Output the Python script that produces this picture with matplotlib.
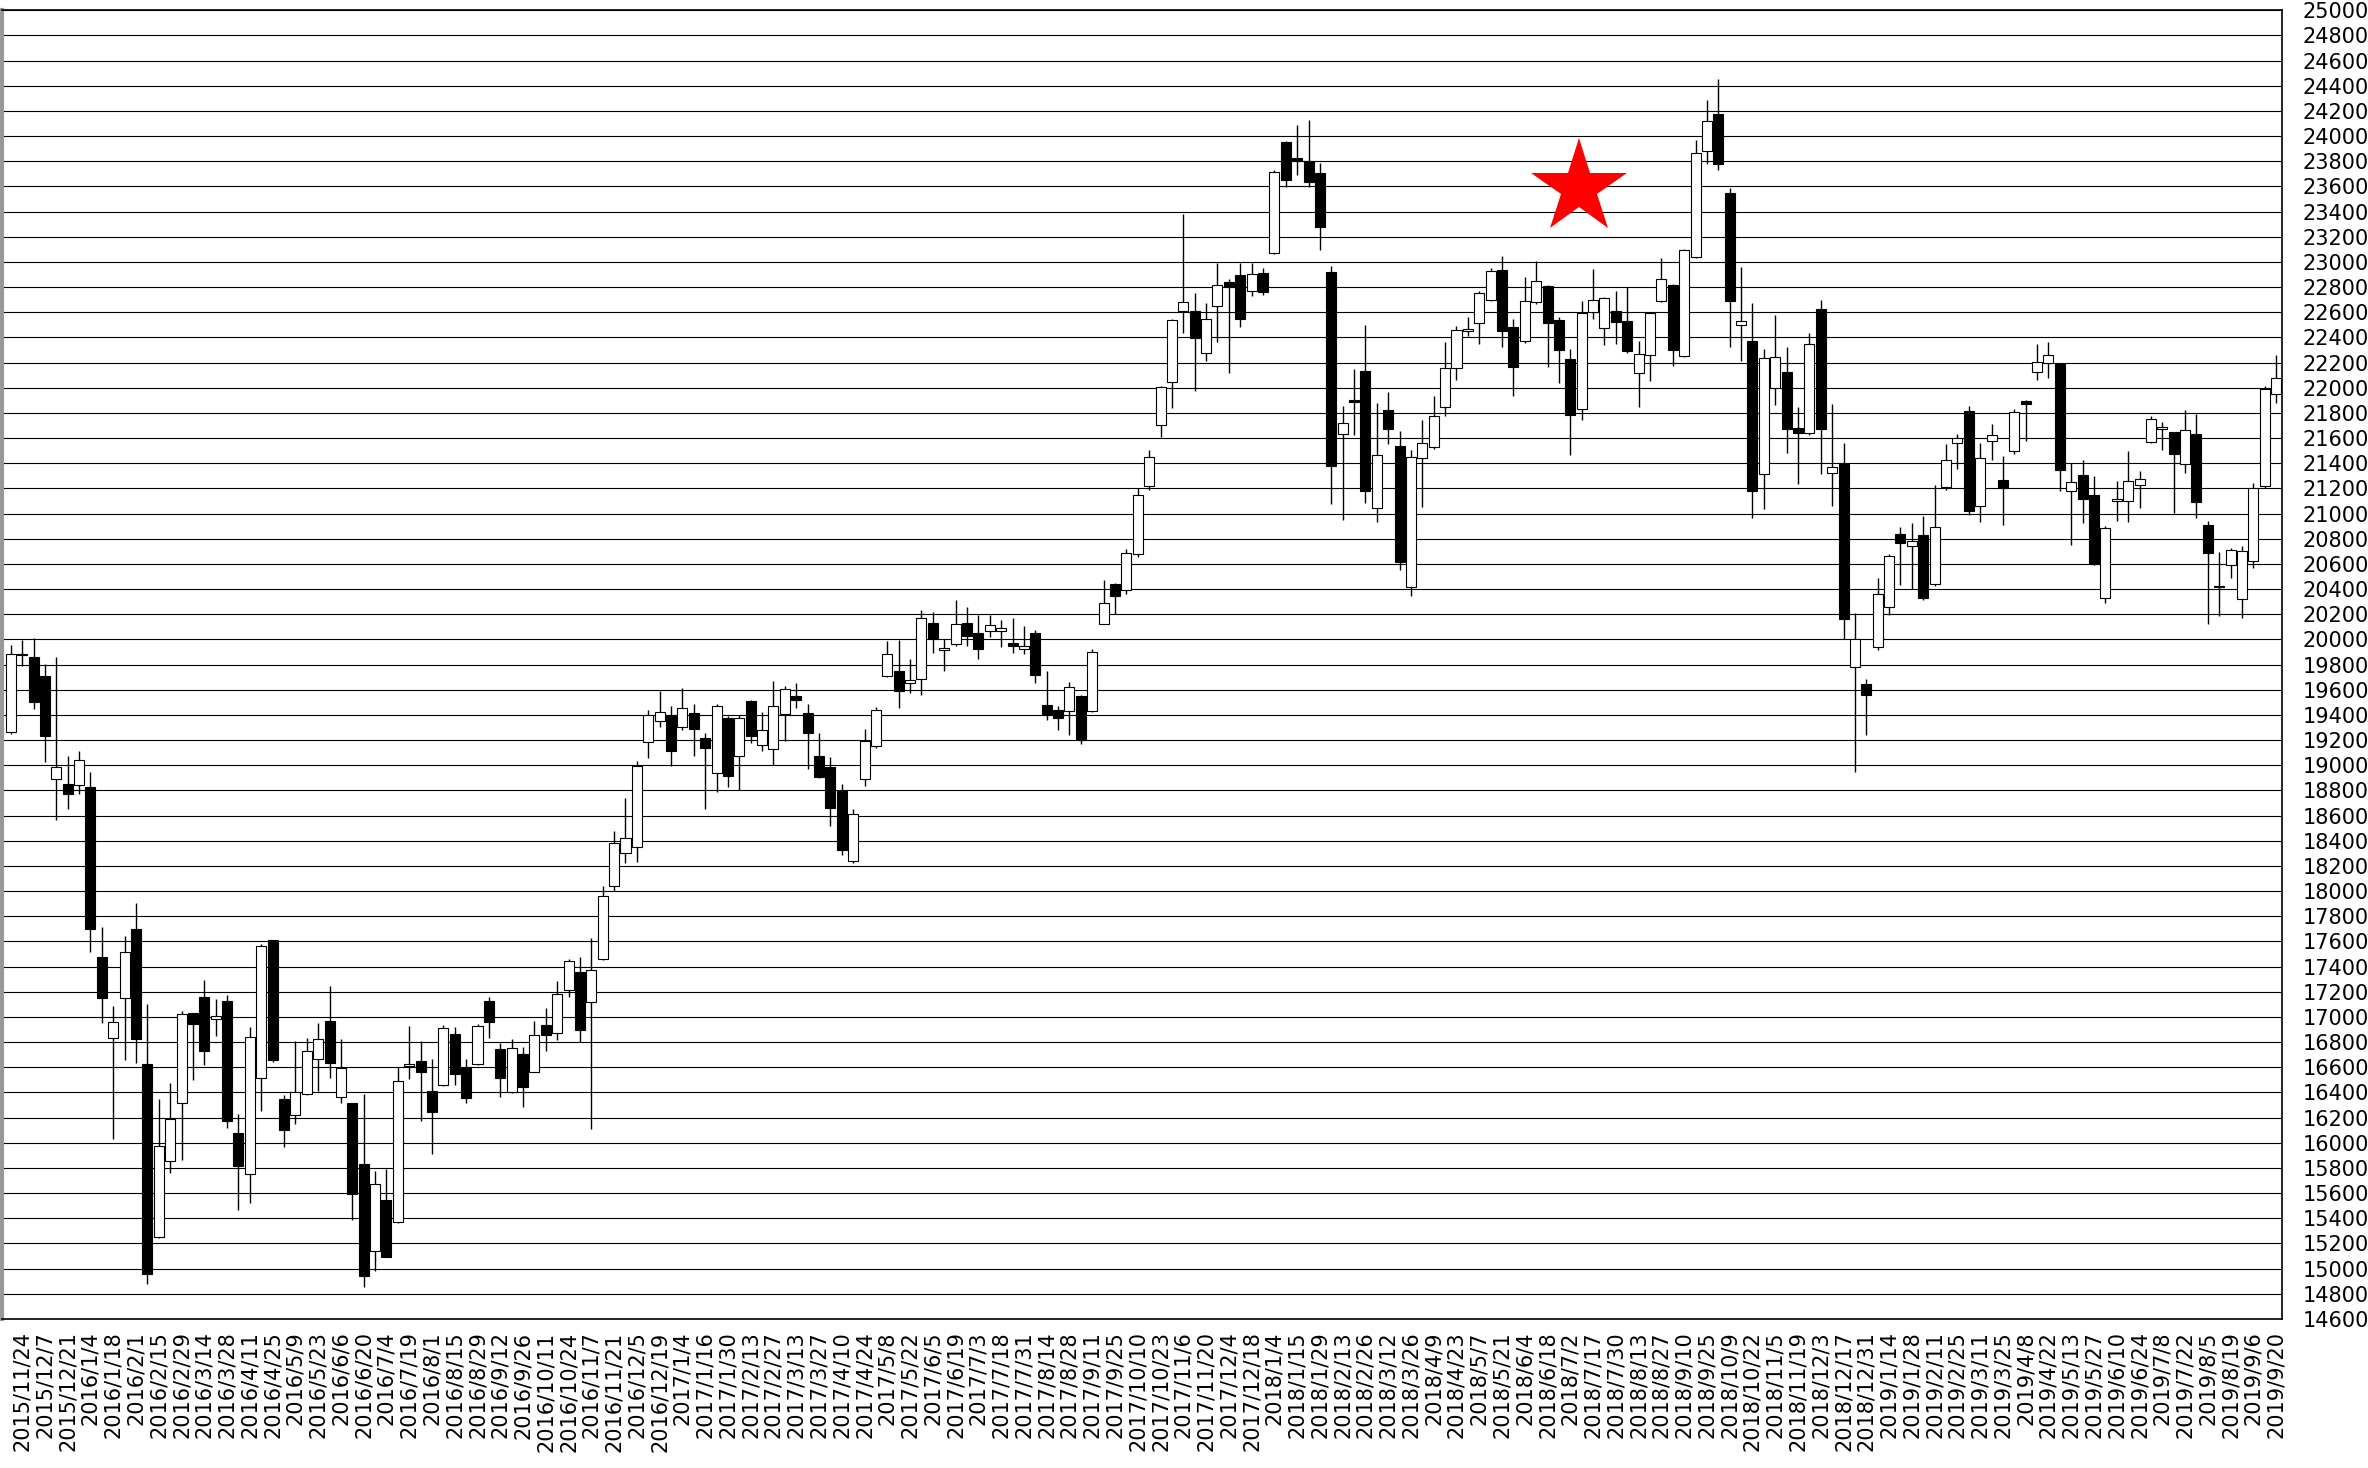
#!/usr/bin/env python3
# -*- coding: utf-8 -*-
"""
Weekly candlestick chart (Nikkei 225, 2015/11 - 2019/9) with a red star marker
"""

import matplotlib
matplotlib.use('Agg')
import matplotlib.pyplot as plt
import numpy as np

# Weekly OHLC values (one entry per week)
opens = [
    19261, 19880, 19860, 19709, 18888, 18849, 18842, 18824, 17476, 16835,
    17150, 17698, 16623, 15254, 15853, 16319, 17028, 17161, 16985, 17128,
    16080, 15752, 16517, 17610, 16350, 16218, 16385, 16665, 16969, 16366,
    16313, 15832, 15144, 15549, 15371, 16610, 16649, 16408, 16456, 16865,
    16598, 16624, 17131, 16745, 16400, 16708, 16563, 16933, 16871, 17214,
    17361, 17123, 17463, 18039, 18302, 18347, 19186, 19352, 19397, 19301,
    19415, 19219, 18939, 19373, 19071, 19513, 19161, 19129, 19407, 19550,
    19417, 19071, 18984, 18798, 18238, 18891, 19150, 19711, 19753, 19655,
    19689, 20131, 19914, 19967, 20131, 20051, 20065, 20067, 19969, 19927,
    20054, 19476, 19439, 19431, 19550, 19432, 20125, 20438, 20396, 20676,
    21216, 21708, 22044, 22613, 22607, 22277, 22652, 22843, 22896, 22771,
    22909, 23070, 23954, 23827, 23801, 23708, 22922, 21629, 21905, 22135,
    21045, 21820, 21534, 20418, 21439, 21529, 21844, 22156, 22452, 22513,
    22701, 22937, 22487, 22370, 22685, 22807, 22542, 22230, 21831, 22606,
    22474, 22612, 22532, 22114, 22262, 22691, 22818, 22252, 23040, 23881,
    24172, 23551, 22501, 22374, 21315, 21998, 22122, 21678, 21644, 22628,
    21319, 21398, 19779, 19647, 19943, 20260, 20842, 20742, 20829, 20438,
    21213, 21562, 21813, 21059, 21575, 21266, 21498, 21899, 22129, 22195,
    22190, 21182, 21309, 21150, 20330, 21097, 21097, 21230, 21568, 21671,
    21645, 21396, 21632, 20910, 20428, 20595, 20325, 20626, 21216, 21952,
]
highs = [
    19960, 19996, 20014, 19809, 19863, 19071, 19110, 18949, 17716, 17085,
    17644, 17906, 17100, 16347, 16476, 17046, 17035, 17290, 17146, 17171,
    16231, 16924, 17580, 17615, 16380, 16808, 16832, 16951, 17244, 16824,
    16320, 16385, 15774, 15795, 16602, 16932, 16813, 16668, 16938, 16919,
    16665, 16946, 17155, 16791, 16825, 16758, 16967, 17075, 17289, 17460,
    17476, 17624, 18039, 18481, 18741, 19035, 19437, 19593, 19475, 19611,
    19486, 19253, 19484, 19394, 19399, 19521, 19420, 19669, 19632, 19658,
    19486, 19253, 19063, 18849, 18653, 19288, 19465, 19989, 19997, 19842,
    20231, 20218, 20006, 20311, 20258, 20192, 20192, 20152, 20170, 20107,
    20077, 19752, 19470, 19664, 19558, 19926, 20475, 20448, 20721, 21205,
    21502, 22015, 22545, 23380, 22756, 22676, 22994, 22861, 22994, 22988,
    22951, 23729, 23960, 24086, 24126, 23787, 22964, 21859, 22150, 22497,
    21881, 21968, 21656, 21508, 21741, 21931, 22360, 22492, 22566, 22772,
    22952, 23050, 22548, 22878, 23011, 22815, 22561, 22310, 22691, 22942,
    22720, 22770, 22797, 22374, 22605, 23030, 22825, 23101, 23966, 24284,
    24450, 23585, 22956, 22670, 22307, 22580, 22326, 21850, 22438, 22699,
    21869, 21562, 20207, 19686, 20491, 20678, 20890, 20927, 20980, 21231,
    21551, 21636, 21856, 21562, 21710, 21456, 21834, 21905, 22349, 22367,
    22195, 21402, 21428, 21301, 20904, 21256, 21494, 21335, 21777, 21732,
    21650, 21820, 21793, 20939, 20693, 20727, 20746, 21243, 22015, 22261,
]
lows = [
    19250, 19791, 19447, 19028, 18569, 18655, 18770, 17516, 16949, 16028,
    16656, 16638, 14878, 15240, 15760, 15867, 16498, 16620, 16849, 16118,
    15464, 15520, 16250, 16640, 15967, 16152, 16380, 16411, 16517, 16319,
    15390, 14856, 14980, 15090, 15365, 16509, 16170, 15914, 16450, 16460,
    16316, 16620, 16833, 16362, 16395, 16284, 16560, 16732, 16817, 17160,
    16801, 16113, 17455, 18004, 18224, 18232, 19057, 19304, 18995, 19283,
    19071, 18653, 18785, 18830, 18806, 19174, 19116, 19000, 19195, 19455,
    18970, 18900, 18521, 18288, 18224, 18838, 19140, 19705, 19452, 19578,
    19562, 19895, 19749, 19946, 19946, 19848, 20020, 19943, 19895, 19886,
    19654, 19360, 19281, 19239, 19169, 19425, 20120, 20205, 20364, 20655,
    21189, 21607, 21838, 22433, 21972, 22216, 22361, 22115, 22480, 22729,
    22734, 23065, 23592, 23692, 23592, 23094, 21078, 20946, 21622, 21087,
    20934, 21556, 20556, 20344, 21053, 21516, 21772, 22064, 22410, 22349,
    22688, 22323, 21931, 22357, 22667, 22164, 22037, 21463, 21744, 22546,
    22342, 22347, 22276, 21850, 22051, 22678, 22175, 22245, 23035, 23776,
    23733, 22321, 22210, 20966, 21038, 21863, 21479, 21236, 21623, 21311,
    21062, 20001, 18943, 19239, 19916, 20194, 20432, 20398, 20313, 20424,
    21186, 21358, 20988, 20935, 21424, 20908, 21472, 21575, 22063, 22076,
    21177, 20753, 20925, 20589, 20290, 20939, 20931, 21044, 21565, 21502,
    21005, 21322, 20965, 20119, 20190, 20489, 20171, 20568, 21203, 21878,
]
closes = [
    19881, 19883, 19505, 19232, 18989, 18770, 19039, 17698, 17150, 16960,
    17519, 16824, 14957, 15971, 16193, 17021, 16942, 16731, 17005, 16171,
    15816, 16840, 17567, 16655, 16102, 16403, 16729, 16829, 16636, 16591,
    15591, 14943, 15673, 15096, 16490, 16630, 16559, 16244, 16911, 16544,
    16357, 16925, 16959, 16517, 16750, 16445, 16858, 16855, 17182, 17447,
    16900, 17372, 17964, 18382, 18425, 18998, 19403, 19424, 19116, 19452,
    19288, 19137, 19470, 18917, 19378, 19235, 19280, 19470, 19605, 19521,
    19259, 18907, 18664, 18330, 18616, 19195, 19441, 19883, 19590, 19675,
    20170, 20004, 19935, 20125, 20025, 19922, 20112, 20094, 19948, 19946,
    19720, 19400, 19379, 19620, 19201, 19901, 20290, 20348, 20686, 21150,
    21449, 22010, 22539, 22684, 22393, 22547, 22816, 22798, 22549, 22904,
    22763, 23716, 23655, 23803, 23637, 23274, 21377, 21719, 21885, 21180,
    21463, 21675, 20614, 21450, 21561, 21775, 22159, 22463, 22471, 22757,
    22926, 22450, 22169, 22693, 22852, 22516, 22302, 21786, 22597, 22696,
    22710, 22519, 22294, 22268, 22598, 22863, 22302, 23093, 23868, 24120,
    23781, 22691, 22527, 21178, 22233, 22247, 21672, 21641, 22350, 21676,
    21371, 20160, 20006, 19557, 20358, 20663, 20768, 20781, 20326, 20895,
    21424, 21602, 21022, 21446, 21628, 21200, 21805, 21875, 22203, 22261,
    21343, 21248, 21119, 20600, 20886, 21116, 21256, 21275, 21751, 21690,
    21470, 21661, 21092, 20687, 20417, 20708, 20700, 21201, 21989, 22081,
]

# x tick labels (every second week, starting with the 2nd candle)
week_labels = [
    '2015/11/24', '2015/12/7', '2015/12/21',
    '2016/1/4', '2016/1/18', '2016/2/1', '2016/2/15', '2016/2/29', '2016/3/14',
    '2016/3/28', '2016/4/11', '2016/4/25', '2016/5/9', '2016/5/23', '2016/6/6',
    '2016/6/20', '2016/7/4', '2016/7/19', '2016/8/1', '2016/8/15', '2016/8/29',
    '2016/9/12', '2016/9/26', '2016/10/11', '2016/10/24', '2016/11/7',
    '2016/11/21', '2016/12/5', '2016/12/19',
    '2017/1/4', '2017/1/16', '2017/1/30', '2017/2/13', '2017/2/27', '2017/3/13',
    '2017/3/27', '2017/4/10', '2017/4/24', '2017/5/8', '2017/5/22', '2017/6/5',
    '2017/6/19', '2017/7/3', '2017/7/18', '2017/7/31', '2017/8/14', '2017/8/28',
    '2017/9/11', '2017/9/25', '2017/10/10', '2017/10/23', '2017/11/6',
    '2017/11/20', '2017/12/4', '2017/12/18',
    '2018/1/4', '2018/1/15', '2018/1/29', '2018/2/13', '2018/2/26', '2018/3/12',
    '2018/3/26', '2018/4/9', '2018/4/23', '2018/5/7', '2018/5/21', '2018/6/4',
    '2018/6/18', '2018/7/2', '2018/7/17', '2018/7/30', '2018/8/13', '2018/8/27',
    '2018/9/10', '2018/9/25', '2018/10/9', '2018/10/22', '2018/11/5',
    '2018/11/19', '2018/12/3', '2018/12/17', '2018/12/31',
    '2019/1/14', '2019/1/28', '2019/2/11', '2019/2/25', '2019/3/11', '2019/3/25',
    '2019/4/8', '2019/4/22', '2019/5/13', '2019/5/27', '2019/6/10', '2019/6/24',
    '2019/7/8', '2019/7/22', '2019/8/5', '2019/8/19', '2019/9/6', '2019/9/20',
]

# y axis range / grid step
y_min, y_max, y_step = 14600, 25000, 200

# star marker (candle index, price)
star_x, star_y = 137.8, 23590


def create_candle_chart():
    fig = plt.figure(figsize=(23.68, 14.68), dpi=100)
    ax = fig.add_axes([0.0008, 0.1015, 0.9629, 0.8915])

    o = np.array(opens)
    h = np.array(highs)
    l = np.array(lows)
    c = np.array(closes)
    x = np.arange(len(o))

    up = c >= o
    body_bottom = np.minimum(o, c)
    body_height = np.maximum(np.abs(c - o), 4)

    # wicks
    ax.vlines(x, l, h, color='black', linewidth=1.0, zorder=2)

    # bodies: white for rising weeks, black for falling weeks
    face = np.where(up, 'white', 'black')
    ax.bar(x, body_height, bottom=body_bottom, width=0.88,
           color=face, edgecolor='black', linewidth=0.8, zorder=3)

    # red star
    ax.plot(star_x, star_y, marker='*', markersize=72, color='#ff0000',
            markeredgewidth=0, zorder=5)

    # axes / grid
    ax.set_xlim(-0.78, 199.52)
    ax.set_ylim(y_min, y_max)
    ax.set_yticks(np.arange(y_min, y_max + 1, y_step))
    ax.yaxis.grid(True, color='black', linewidth=0.8)
    ax.set_axisbelow(True)

    ax.yaxis.tick_right()
    ax.tick_params(axis='y', length=0, pad=15, labelsize=15)

    ax.set_xticks(x[1::2])
    ax.set_xticklabels(week_labels, rotation=90, fontsize=15)
    ax.tick_params(axis='x', length=0, pad=9)

    for side in ['top', 'bottom', 'right']:
        ax.spines[side].set_color('black')
        ax.spines[side].set_linewidth(1.2)
    ax.spines['left'].set_color('#999999')
    ax.spines['left'].set_linewidth(3)

    fig.savefig('out.png', dpi=100)
    plt.close(fig)


if __name__ == "__main__":
    create_candle_chart()
